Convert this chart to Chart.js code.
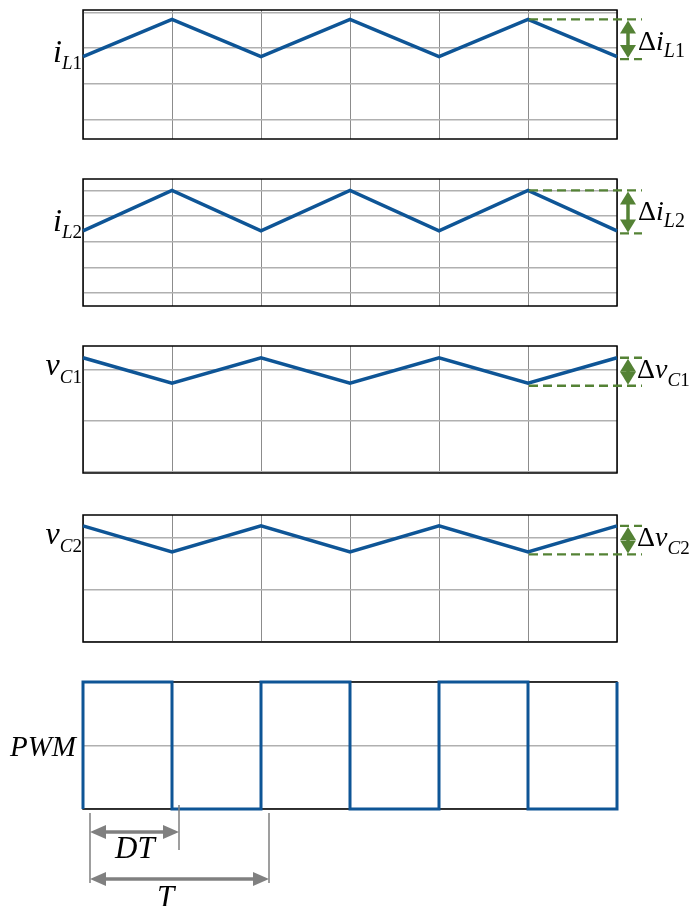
<!DOCTYPE html>
<html>
<head>
<meta charset="utf-8">
<script src="https://cdn.jsdelivr.net/npm/chart.js@4.4.1/dist/chart.umd.min.js"></script>
<style>
  body { margin: 0; background: #fff; width: 691px; height: 906px; position: relative; overflow: hidden;
         font-family: "Liberation Serif", "Times New Roman", serif; }
  canvas { position: absolute; left: 0; }
  .lbl { position: absolute; line-height: 1; white-space: nowrap; color: #000; font-style: italic; }
  .lbl .up { font-style: normal; }
  .lbl sub { vertical-align: baseline; position: relative; }
</style>
</head>
<body>
<script>
// time in switching periods, D = 0.5
const t = [0, 0.5, 1, 1.5, 2, 2.5, 3];
const iL1 = [1.76, 2.8, 1.76, 2.8, 1.76, 2.8, 1.76];
const iL2 = [2.42, 4.0, 2.42, 4.0, 2.42, 4.0, 2.42];
const vC1 = [2.24, 1.74, 2.24, 1.74, 2.24, 1.74, 2.24];
const vC2 = [2.22, 1.72, 2.22, 1.72, 2.22, 1.72, 2.22];
const tPwm = [0, 0, 0.5, 0.5, 1, 1, 1.5, 1.5, 2, 2, 2.5, 2.5, 3, 3];
const pwm = [0, 1, 1, 0, 0, 1, 1, 0, 0, 1, 1, 0, 0, 1];

const W = 691, LEFT = 83, RIGHT = 617;
const BLUE = '#0e5596', GREEN = '#548235', GRAY = '#808080';

// double headed arrow, from (x1,y1) to (x2,y2)
const arrow = (ctx, x1, y1, x2, y2, color, hl, hw, lw) => {
    const ang = Math.atan2(y2 - y1, x2 - x1);
    const c = Math.cos(ang), s = Math.sin(ang);
    ctx.save();
    ctx.strokeStyle = color; ctx.fillStyle = color; ctx.lineWidth = lw;
    ctx.beginPath();
    ctx.moveTo(x1 + c * hl * 0.8, y1 + s * hl * 0.8);
    ctx.lineTo(x2 - c * hl * 0.8, y2 - s * hl * 0.8);
    ctx.stroke();
    [[x1, y1, 1], [x2, y2, -1]].forEach(([px, py, d]) => {
        ctx.beginPath();
        ctx.moveTo(px, py);
        ctx.lineTo(px + d * c * hl - s * hw, py + d * s * hl + c * hw);
        ctx.lineTo(px + d * c * hl + s * hw, py + d * s * hl - c * hw);
        ctx.closePath();
        ctx.fill();
    });
    ctx.restore();
};

const deco = {
    id: 'deco',
    beforeDatasetsDraw(chart) {
        const { ctx, chartArea: a } = chart;
        ctx.save();
        ctx.strokeStyle = '#000';
        ctx.lineWidth = 1.5;
        ctx.strokeRect(a.left, a.top, a.right - a.left, a.bottom - a.top);
        ctx.restore();
    },
    afterDraw(chart, args, opts) {
        const { ctx, chartArea: a } = chart;
        const xs = chart.scales.x, ys = chart.scales.y;
        if (opts.delta) {
            const vals = chart.data.datasets[0].data.map(p => p.y);
            const yHi = ys.getPixelForValue(Math.max(...vals));
            const yLo = ys.getPixelForValue(Math.min(...vals)) + 2.5;
            const xEnd = a.right + 25;
            ctx.save();
            ctx.strokeStyle = GREEN;
            ctx.lineWidth = 2.3;
            ctx.setLineDash([9, 5]);
            const yLong = opts.delta === 'hi' ? yHi : yLo;
            const yShort = opts.delta === 'hi' ? yLo : yHi;
            ctx.beginPath();
            ctx.moveTo(xs.getPixelForValue(2.5) + 1, yLong);
            ctx.lineTo(xEnd, yLong);
            ctx.moveTo(a.right + 3, yShort);
            ctx.lineTo(xEnd, yShort);
            ctx.stroke();
            ctx.restore();
            arrow(ctx, a.right + 11, yHi + 1, a.right + 11, yLo - 1, GREEN, 13, 8, 3.5);
        }
        if (opts.periods) {
            const x0 = xs.getPixelForValue(0) + 7;
            const xD = xs.getPixelForValue(0.5) + 7;
            const xT = xs.getPixelForValue(1) + 8;
            const b = a.bottom;
            ctx.save();
            ctx.strokeStyle = GRAY;
            ctx.lineWidth = 1.5;
            ctx.beginPath();
            ctx.moveTo(x0, b + 4); ctx.lineTo(x0, b + 74);
            ctx.moveTo(xD, b - 4); ctx.lineTo(xD, b + 41);
            ctx.moveTo(xT, b + 4); ctx.lineTo(xT, b + 74);
            ctx.stroke();
            ctx.restore();
            arrow(ctx, x0, b + 23, xD, b + 23, GRAY, 16, 7, 3.5);
            arrow(ctx, x0, b + 70, xT, b + 70, GRAY, 16, 7, 3.5);
        }
    }
};

const panels = [
    { x: t, y: iL1, top: 0, h: 160, areaTop: 10, areaH: 129, min: -0.546, max: 3.064, step: 1, delta: 'hi' },
    { x: t, y: iL2, top: 165, h: 160, areaTop: 14, areaH: 127, min: -0.508, max: 4.446, step: 1, delta: 'hi' },
    { x: t, y: vC1, top: 330, h: 160, areaTop: 16, areaH: 127, min: -0.02, max: 2.47, step: 1, delta: 'lo' },
    { x: t, y: vC2, top: 500, h: 160, areaTop: 15, areaH: 127, min: -0.01, max: 2.43, step: 1, delta: 'lo' },
    { x: tPwm, y: pwm, top: 665, h: 241, areaTop: 17, areaH: 127, min: 0, max: 1, step: 0.5, periods: true }
];

panels.forEach(p => {
    const cv = document.createElement('canvas');
    cv.width = W;
    cv.height = p.h;
    cv.style.top = p.top + 'px';
    document.body.appendChild(cv);
    new Chart(cv, {
        type: 'line',
        data: {
            datasets: [{
                data: p.x.map((x, i) => ({ x, y: p.y[i] })),
                borderColor: BLUE,
                borderWidth: p.periods ? 3 : 3.5,
                pointRadius: 0,
                tension: 0,
                clip: false,
                borderJoinStyle: 'miter'
            }]
        },
        options: {
            responsive: false,
            animation: false,
            events: [],
            layout: {
                autoPadding: false,
                padding: { left: LEFT, right: W - RIGHT, top: p.areaTop, bottom: p.h - p.areaTop - p.areaH }
            },
            plugins: {
                legend: { display: false },
                tooltip: { enabled: false },
                deco: { delta: p.delta, periods: p.periods }
            },
            scales: {
                x: {
                    type: 'linear', min: 0, max: 3,
                    ticks: { display: false, stepSize: 0.5 },
                    grid: { color: '#8c8c8c', lineWidth: 1, drawTicks: false },
                    border: { display: false }
                },
                y: {
                    min: p.min, max: p.max,
                    ticks: { display: false, stepSize: p.step, includeBounds: false },
                    grid: { color: '#b0b0b0', lineWidth: 1.5, drawTicks: false },
                    border: { display: false }
                }
            }
        },
        plugins: [deco]
    });
});

// text labels: [html, anchor x, baseline y, size, right aligned]
const labels = [
    ['<span>i</span><sub style="font-size:19px;top:7px">L<span class="up">1</span></sub>', 82, 62, 32, true],
    ['<span>i</span><sub style="font-size:19px;top:7px">L<span class="up">2</span></sub>', 82, 231, 32, true],
    ['<span>v</span><sub style="font-size:19px;top:8px">C<span class="up">1</span></sub>', 82, 375, 32, true],
    ['<span>v</span><sub style="font-size:19px;top:8px">C<span class="up">2</span></sub>', 82, 544, 32, true],
    ['PWM', 10, 756, 29, false],
    ['<span class="up">&Delta;</span>i<sub style="font-size:20px;top:7px">L<span class="up">1</span></sub>', 638, 50, 28, false],
    ['<span class="up">&Delta;</span>i<sub style="font-size:20px;top:7px">L<span class="up">2</span></sub>', 638, 220, 28, false],
    ['<span class="up">&Delta;</span>v<sub style="font-size:19px;top:8px">C<span class="up">1</span></sub>', 637, 378, 28, false],
    ['<span class="up">&Delta;</span>v<sub style="font-size:19px;top:8px">C<span class="up">2</span></sub>', 637, 546, 28, false],
    ['DT', 115, 858, 31, false],
    ['T', 157, 907, 31, false]
];
labels.forEach(([html, x, base, size, right]) => {
    const d = document.createElement('div');
    d.className = 'lbl';
    d.innerHTML = html;
    d.style.fontSize = size + 'px';
    d.style.top = (base - 0.8375 * size) + 'px';
    if (right) d.style.right = (W - x) + 'px';
    else d.style.left = x + 'px';
    document.body.appendChild(d);
});
</script>
</body>
</html>
